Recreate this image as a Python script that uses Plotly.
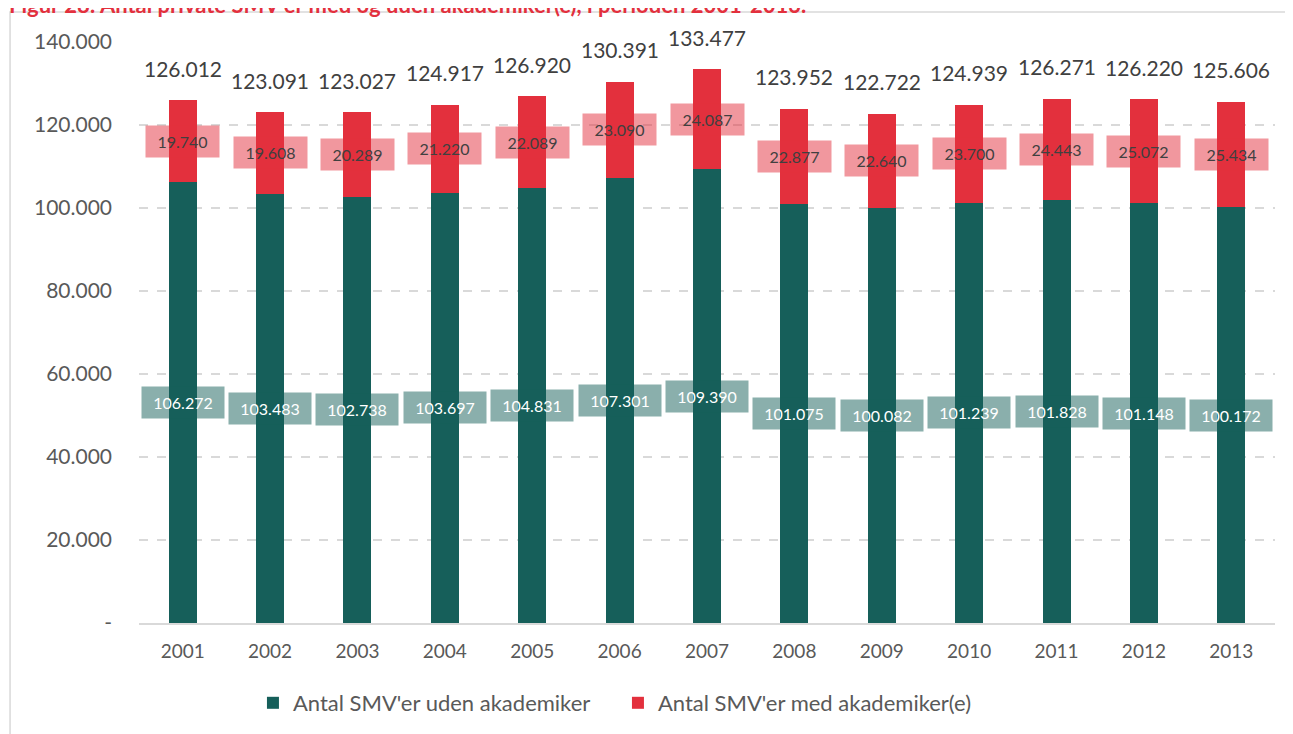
import plotly.graph_objects as go

years = ["2001", "2002", "2003", "2004", "2005", "2006", "2007",
         "2008", "2009", "2010", "2011", "2012", "2013"]
uden = [106272, 103483, 102738, 103697, 104831, 107301, 109390,
        101075, 100082, 101239, 101828, 101148, 100172]
med = [19740, 19608, 20289, 21220, 22089, 23090, 24087,
       22877, 22640, 23700, 24443, 25072, 25434]
y_tickvals = [0, 20000, 40000, 60000, 80000, 100000, 120000, 140000]
y_ticktext = ["-", "20.000", "40.000", "60.000", "80.000", "100.000", "120.000", "140.000"]

TEAL = "#165F5A"
RED = "#E3303D"
FONT = "Lato"

def fmt(v):
    return f"{v:,}".replace(",", ".")

totals = [a + b for a, b in zip(uden, med)]

fig = go.Figure()
fig.add_trace(go.Bar(x=years, y=uden, name="Antal SMV'er uden akademiker",
                     marker=dict(color=TEAL, line=dict(width=0))))
fig.add_trace(go.Bar(x=years, y=med, name="Antal SMV'er med akademiker(e)",
                     marker=dict(color=RED, line=dict(width=0))))

ann = []
for i, (u, m, t) in enumerate(zip(uden, med, totals)):
    ann.append(dict(x=i, y=u / 2, xref="x", yref="y", text=fmt(u), showarrow=False,
                    font=dict(family=FONT, size=16, color="white"),
                    bgcolor="rgba(22,95,90,0.5)", width=80, height=29, borderpad=1,
                    xanchor="center", yanchor="middle"))
    ann.append(dict(x=i, y=u + m / 2, xref="x", yref="y", text=fmt(m), showarrow=False,
                    font=dict(family=FONT, size=16, color="#404040"),
                    bgcolor="rgba(227,48,61,0.5)", width=71, height=29, borderpad=1,
                    xanchor="center", yanchor="middle"))
    ann.append(dict(x=i, y=t, xref="x", yref="y", text=fmt(t), showarrow=False,
                    font=dict(family=FONT, size=21, color="#404040"),
                    yshift=32, xanchor="center", yanchor="middle"))

# page offset (default body margin)
OFF = 8
W, H = 1293, 734
L = 139 - OFF
T = 42 - OFF
R = W - (1275.5 - OFF)
B = H - (623 - OFF)
pw, ph = W - L - R, H - T - B

def px(xp):
    return (xp - OFF - L) / pw

def py(yp):
    return (H - B - (yp - OFF)) / ph

ann.append(dict(x=px(7), y=py(4), xref="paper", yref="paper",
                text="<b>Figur 28: Antal private SMV'er med og uden akademiker(e), i perioden 2001-2013.</b>",
                showarrow=False, xanchor="left", yanchor="middle",
                font=dict(family=FONT, size=22, color=RED)))

fig.update_layout(
    width=W, height=H,
    barmode="stack", bargap=0.68,
    plot_bgcolor="white", paper_bgcolor="white",
    margin=dict(l=L, r=R, t=T, b=B, autoexpand=False),
    font=dict(family=FONT, color="#595959"),
    annotations=ann,
    shapes=[dict(type="rect", xref="paper", yref="paper",
                 x0=px(10), x1=px(1320), y0=py(770), y1=py(12),
                 line=dict(color="#D9D9D9", width=1.5), fillcolor="rgba(0,0,0,0)",
                 layer="below")],
    legend=dict(orientation="h", x=px(253), y=py(703), xanchor="left", yanchor="middle",
                traceorder="normal",
                font=dict(family=FONT, size=22, color="#595959"),
                entrywidth=320, itemclick=False),
    showlegend=True,
)
fig.update_xaxes(type="category", showline=True, linecolor="#D9D9D9", linewidth=1.5,
                 ticks="", tickfont=dict(family=FONT, size=19, color="#595959"),
                 ticklabelstandoff=10, showgrid=False, automargin=False)
fig.update_yaxes(range=[0, 140000], tickvals=y_tickvals, ticktext=y_ticktext,
                 showgrid=True, gridcolor="#D9D9D9", gridwidth=1.5, griddash="dash",
                 zeroline=False, showline=False, ticks="", automargin=False,
                 tickfont=dict(family=FONT, size=21, color="#595959"),
                 ticklabelstandoff=26)

fig.write_html("out.html")
